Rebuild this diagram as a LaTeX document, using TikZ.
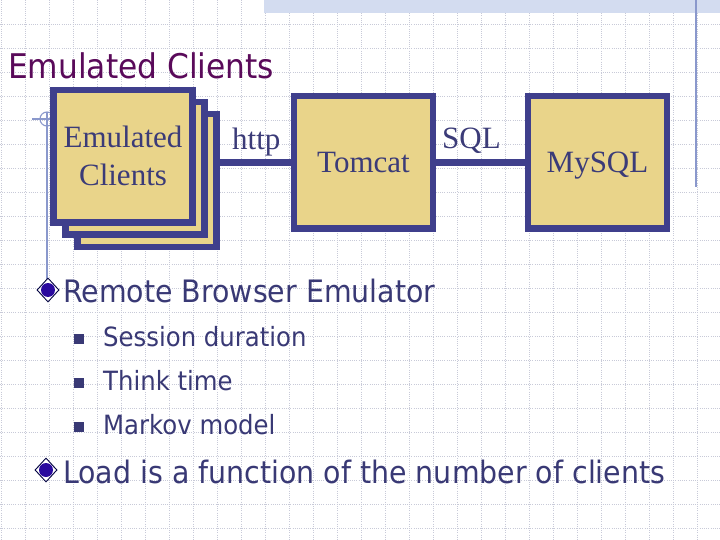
\documentclass[tikz,border=0pt]{standalone}
\usepackage{fontspec}
\setmainfont{Liberation Serif}
\newfontfamily\tah[FakeStretch=0.92]{DejaVu Sans}
\definecolor{gridc}{HTML}{C8CAD8}
\definecolor{bandc}{HTML}{D3DCF0}
\definecolor{thinc}{HTML}{8A98CC}
\definecolor{boxfill}{HTML}{E9D48A}
\definecolor{boxline}{HTML}{3F3F8C}
\definecolor{boxtext}{HTML}{3B3B78}
\definecolor{titlec}{HTML}{5A0A5A}
\definecolor{bodyc}{HTML}{393975}
\definecolor{bulc}{HTML}{2A0A9E}
\tikzset{
  gridline/.style={gridc, line width=0.7pt, dash pattern=on 1pt off 1.2pt},
  thinline/.style={thinc, line width=1.1pt},
  box/.style={draw=boxline, fill=boxfill, line width=6.5pt, inner sep=0pt,
    minimum width=139pt, minimum height=132.5pt, text=boxtext,
    font=\fontsize{31}{38}\selectfont, align=center, text height=21pt, text depth=0pt},
  conn/.style={boxline, line width=6.5pt},
  conlabel/.style={anchor=base west, inner sep=0pt, text=boxtext, font=\fontsize{31}{38}\selectfont},
  title/.style={anchor=base west, inner sep=0pt, text=titlec, font=\tah\fontsize{34}{40}\selectfont},
  lvone/.style={anchor=base west, inner sep=0pt, text=bodyc, font=\tah\fontsize{30.9}{36}\selectfont},
  lvtwo/.style={anchor=base west, inner sep=0pt, text=bodyc, font=\tah\fontsize{26.5}{32}\selectfont},
  sqbul/.style={fill=bodyc, draw=none, minimum size=10pt, inner sep=0pt},
  diam/.pic={
    \fill[black!75!blue] (0,-12.5) -- (11.5,0) -- (0,12.5) -- (-11.5,0) -- cycle;
    \fill[white] (0,-11) -- (10,0) -- (0,11) -- (-10,0) -- cycle;
    \fill[bulc] (0,0) circle (7);
  }
}
\begin{document}
\begin{tikzpicture}[x=1pt, y=-1pt]
\useasboundingbox (0,0) rectangle (720,540);
\fill[white] (0,0) rectangle (720,540);
% grid
\foreach \gx in {1,25,...,720} \draw[gridline] (\gx,0) -- (\gx,540);
\foreach \gy in {24,48,...,540} \draw[gridline] (0,\gy) -- (720,\gy);
% top band and right rule
\fill[bandc] (264,0) rectangle (720,13);
\draw[thinline] (696,0) -- (696,187);
% left rule with circle
\draw[thinline] (47,112) -- (47,279);
\draw[thinline] (32,119) -- (54,119);
\draw[thinline] (47,119) circle (7);
% title
\node[title] (ttl) at (8,79) {Emulated Clients};
% boxes
\node[box] (stackc) at (147,180.5) {};
\node[box] (stackb) at (135,168.5) {};
\node[box, text height=59pt, text depth=0pt] (clients) at (123,156.5) {Emulated\\Clients};
\node[box] (tomcat) at (363.5,162.5) {Tomcat};
\node[box] (mysql) at (597.5,162.5) {MySQL};
% connectors
\draw[conn] (stackc.east |- tomcat.west) -- (tomcat.west);
\draw[conn] (tomcat.east) -- (mysql.west);
\node[conlabel] (http) at (232,150) {http};
\node[conlabel] (sql) at (442,149) {SQL};
% bullets
\pic at (48,290) {diam};
\node[lvone] (rbe) at (63,302) {Remote Browser Emulator};
\node[sqbul] (b1) at (79,339) {};
\node[lvtwo] (t1) at (103,346) {Session duration};
\node[sqbul] (b2) at (79,383) {};
\node[lvtwo] (t2) at (103,390) {Think time};
\node[sqbul] (b3) at (79,427) {};
\node[lvtwo] (t3) at (103,434) {Markov model};
\pic at (46,470) {diam};
\node[lvone] (load) at (63,483) {Load is a function of the number of clients};
\end{tikzpicture}
\end{document}
